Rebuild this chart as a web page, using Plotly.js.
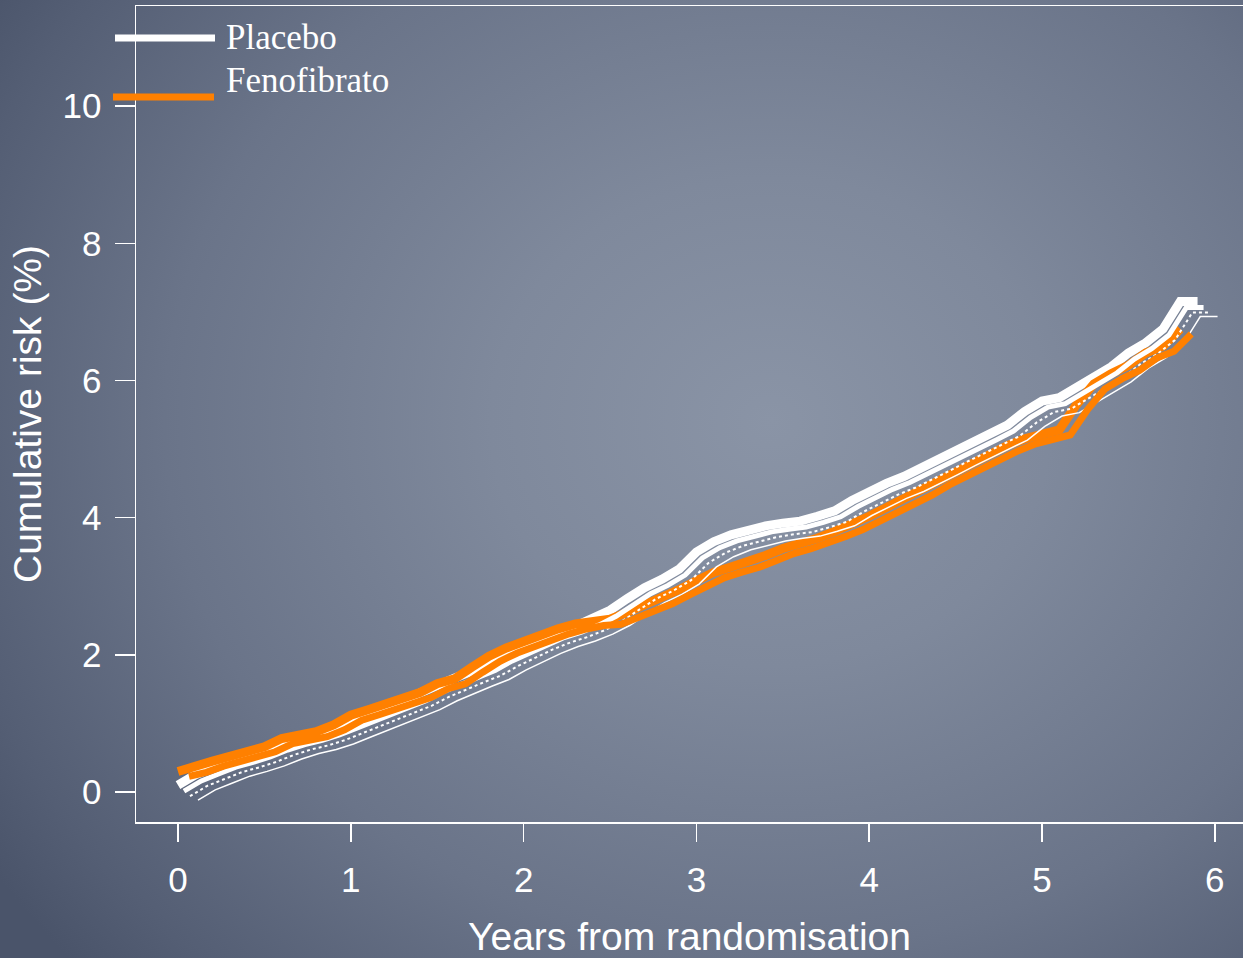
<!DOCTYPE html>
<html>
<head>
<meta charset="utf-8">
<script src="https://cdn.plot.ly/plotly-3.0.1.min.js"></script>
<style>
  html, body { margin: 0; padding: 0; width: 1243px; height: 958px; overflow: hidden; }
  body { background: radial-gradient(ellipse 75% 85% at 62% 44%, #8a94a6 0%, #7f899c 30%, #6a7489 65%, #545e74 90%, #4a546a 100%); }
  #chart { width: 1243px; height: 958px; }
</style>
</head>
<body>
<div id="chart"></div>
<script>
// Years from randomisation
const years = [0.0,0.1,0.2,0.3,0.4,0.5,0.6,0.7,0.8,0.9,1.0,1.1,1.2,1.3,1.4,1.5,1.6,1.7,1.8,1.9,2.0,2.1,2.2,2.3,2.4,2.5,2.6,2.7,2.8,2.9,3.0,3.1,3.2,3.3,3.4,3.5,3.6,3.7,3.8,3.9,4.0,4.1,4.2,4.3,4.4,4.5,4.6,4.7,4.8,4.9,5.0,5.1,5.2,5.3,5.4,5.5,5.6,5.7,5.8];
// Cumulative risk (%) - Placebo
const placebo = [0.10,0.25,0.35,0.45,0.52,0.60,0.70,0.78,0.84,0.92,1.02,1.12,1.22,1.32,1.42,1.55,1.66,1.76,1.86,2.00,2.12,2.24,2.34,2.42,2.52,2.65,2.82,2.98,3.10,3.25,3.50,3.65,3.75,3.82,3.88,3.92,3.95,4.02,4.10,4.25,4.38,4.50,4.60,4.72,4.85,4.98,5.10,5.22,5.35,5.55,5.70,5.75,5.90,6.05,6.20,6.40,6.55,6.75,7.15];
const placeboTailYears = [5.8, 5.9];
const placeboTail = [7.15, 7.15];
// Cumulative risk (%) - Fenofibrato
const fenofibrato = [0.30,0.36,0.45,0.52,0.58,0.66,0.78,0.82,0.88,0.98,1.12,1.20,1.28,1.38,1.45,1.58,1.65,1.82,1.98,2.10,2.20,2.30,2.38,2.45,2.50,2.52,2.62,2.72,2.82,2.95,3.08,3.20,3.28,3.35,3.45,3.55,3.62,3.70,3.80,3.90,4.02,4.15,4.28,4.40,4.55,4.68,4.80,4.92,5.05,5.15,5.22,5.28,5.65,5.95,6.10,6.22,6.40,6.50,6.75];

const xTicks = [0,1,2,3,4,5,6];
const yTicks = [0,2,4,6,8,10];
const seriesNames = ['Placebo', 'Fenofibrato'];

const WHITE = '#ffffff';
const ORANGE = '#ff8000';

// base axis ranges
const XR = [-0.243, 6.163];
const YR = [-0.437, 11.46];
const plotW = 1107, plotH = 816;
const pxX = (XR[1]-XR[0]) / plotW;
const pxY = (YR[1]-YR[0]) / plotH;

// offset "echo" axes (visual ghosting of the original rendering)
const echoes = [
  {dx: 6, dy: 6},
  {dx: 12, dy: 11},
  {dx: 20, dy: 15},
  {dx: 11, dy: 5}
];

const layout = {
  width: 1243, height: 958,
  margin: {l: 136, r: 0, t: 6, b: 136},
  paper_bgcolor: 'rgba(0,0,0,0)',
  plot_bgcolor: 'rgba(0,0,0,0)',
  showlegend: false,
  font: {family: 'Liberation Sans, Arial, sans-serif', color: WHITE},
  xaxis: {
    range: XR, tickvals: xTicks, ticktext: xTicks.map(String),
    showgrid: false, zeroline: false, showline: true, mirror: true,
    linecolor: WHITE, linewidth: 1.5,
    ticks: 'outside', ticklen: 18, tickwidth: 1.5, tickcolor: WHITE,
    ticklabelstandoff: 8,
    tickfont: {size: 35, color: WHITE},
    title: {text: 'Years from randomisation', font: {size: 39, color: WHITE}, standoff: 28}
  },
  yaxis: {
    range: YR, tickvals: yTicks, ticktext: yTicks.map(String),
    showgrid: false, zeroline: false, showline: true,
    linecolor: WHITE, linewidth: 1.5,
    ticks: 'outside', ticklen: 20, tickwidth: 1.5, tickcolor: WHITE,
    ticklabelstandoff: 6,
    tickfont: {size: 35, color: WHITE},
    title: {text: 'Cumulative risk (%)', font: {size: 39, color: WHITE}, standoff: 9}
  },
  shapes: [
    {type: 'line', xref: 'paper', yref: 'paper', x0: (115-136)/plotW, x1: (215-136)/plotW, y0: (822-38)/plotH, y1: (822-38)/plotH, line: {color: WHITE, width: 7}},
    {type: 'line', xref: 'paper', yref: 'paper', x0: (113-136)/plotW, x1: (214-136)/plotW, y0: (822-97)/plotH, y1: (822-97)/plotH, line: {color: ORANGE, width: 7}}
  ],
  annotations: [
    {xref: 'paper', yref: 'paper', x: (224-136)/plotW, y: (822-38)/plotH, xanchor: 'left', yanchor: 'middle', showarrow: false, text: seriesNames[0], font: {family: 'Liberation Serif, Times New Roman, serif', size: 35, color: WHITE}},
    {xref: 'paper', yref: 'paper', x: (224-136)/plotW, y: (822-80)/plotH, xanchor: 'left', yanchor: 'middle', showarrow: false, text: seriesNames[1], font: {family: 'Liberation Serif, Times New Roman, serif', size: 35, color: WHITE}}
  ]
};

echoes.forEach((e, i) => {
  const n = i + 2;
  layout['xaxis' + n] = {range: [XR[0] - e.dx*pxX, XR[1] - e.dx*pxX], overlaying: 'x', visible: false, fixedrange: true};
  layout['yaxis' + n] = {range: [YR[0] + e.dy*pxY, YR[1] + e.dy*pxY], overlaying: 'y', visible: false, fixedrange: true};
});

const px = years.concat(placeboTailYears.slice(1));
const py = placebo.concat(placeboTail.slice(1));

const traces = [
  // placebo ghost copies (thin)
  {x: px, y: py, xaxis: 'x4', yaxis: 'y4', mode: 'lines', line: {color: WHITE, width: 1.5}, hoverinfo: 'skip'},
  {x: px, y: py, xaxis: 'x3', yaxis: 'y3', mode: 'lines', line: {color: WHITE, width: 2, dash: 'dot'}, hoverinfo: 'skip'},
  {x: px, y: py, xaxis: 'x2', yaxis: 'y2', mode: 'lines', line: {color: WHITE, width: 5}, hoverinfo: 'skip'},
  // placebo main
  {x: px, y: py, name: seriesNames[0], mode: 'lines', line: {color: WHITE, width: 9}},
  // fenofibrato ghost + main
  {x: years, y: fenofibrato, xaxis: 'x5', yaxis: 'y5', mode: 'lines', line: {color: ORANGE, width: 7}, hoverinfo: 'skip'},
  {x: years, y: fenofibrato, name: seriesNames[1], mode: 'lines', line: {color: ORANGE, width: 9}}
];

Plotly.newPlot('chart', traces, layout, {displayModeBar: false, staticPlot: true});
</script>
</body>
</html>
